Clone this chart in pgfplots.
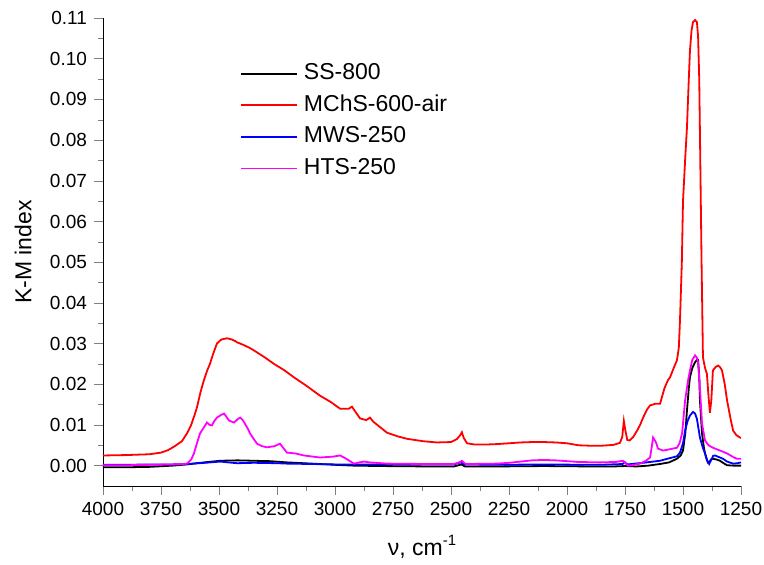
\documentclass[border=0pt]{standalone}
\usepackage{fontspec}
\setmainfont{Liberation Sans}
\usepackage{pgfplots}
\pgfplotsset{compat=1.18}
\definecolor{magpure}{RGB}{255,0,255}
\definecolor{redpure}{RGB}{255,0,0}
\definecolor{bluepure}{RGB}{0,0,255}

\pgfplotstableread{
x y
4000 -0.0004
3900 -0.0004
3800 -0.0003
3700 0.0000
3638 0.0003
3580 0.0007
3495 0.0012
3420 0.0013
3349 0.0012
3280 0.0011
3207 0.0008
3100 0.0005
3000 0.0002
2918 0.0000
2800 -0.0001
2600 -0.0002
2487 -0.0002
2455 0.0003
2440 -0.0002
2300 -0.0002
2100 -0.0001
1900 -0.0002
1800 -0.0002
1750 -0.0001
1700 -0.0002
1650 0.0000
1600 0.0004
1560 0.0008
1526 0.0017
1510 0.0025
1500 0.0037
1490 0.0080
1483 0.0135
1475 0.0190
1470 0.0217
1460 0.0240
1448 0.0254
1440 0.0260
1435 0.0260
1430 0.0220
1427 0.0160
1418 0.0079
1410 0.0045
1405 0.0030
1398 0.0015
1392 0.0007
1385 0.0010
1378 0.0016
1371 0.0017
1355 0.0015
1341 0.0012
1325 0.0006
1310 0.0001
1280 0.0000
1250 0.0000
}\ssdata

\pgfplotstableread{
x y
4000 0.0025
3900 0.0026
3800 0.0028
3750 0.0032
3720 0.0038
3690 0.0048
3660 0.0060
3638 0.0079
3620 0.0100
3605 0.0125
3595 0.0143
3580 0.0180
3565 0.0210
3550 0.0235
3539 0.0250
3525 0.0275
3509 0.0300
3490 0.0310
3465 0.0313
3445 0.0310
3430 0.0306
3422 0.0303
3400 0.0298
3370 0.0290
3349 0.0283
3300 0.0265
3263 0.0250
3220 0.0235
3177 0.0217
3120 0.0195
3065 0.0172
3020 0.0157
2978 0.0140
2940 0.0140
2927 0.0145
2915 0.0135
2892 0.0116
2865 0.0112
2849 0.0118
2835 0.0108
2800 0.0092
2776 0.0081
2730 0.0072
2690 0.0066
2620 0.0060
2560 0.0057
2500 0.0058
2475 0.0065
2460 0.0075
2453 0.0082
2445 0.0068
2431 0.0055
2400 0.0052
2345 0.0052
2300 0.0053
2250 0.0055
2200 0.0057
2150 0.0058
2100 0.0058
2050 0.0057
2000 0.0055
1950 0.0050
1900 0.0049
1850 0.0049
1800 0.0051
1772 0.0056
1762 0.0070
1755 0.0110
1748 0.0085
1740 0.0063
1730 0.0062
1715 0.0070
1698 0.0086
1685 0.0100
1672 0.0118
1655 0.0138
1642 0.0148
1620 0.0152
1599 0.0152
1590 0.0170
1580 0.0190
1565 0.0210
1556 0.0217
1540 0.0240
1526 0.0259
1518 0.0290
1513 0.0357
1505 0.0500
1500 0.0650
1490 0.0760
1483 0.0830
1475 0.0950
1470 0.1020
1463 0.1070
1457 0.1090
1448 0.1095
1440 0.1090
1435 0.1055
1430 0.0950
1427 0.0818
1420 0.0500
1414 0.0266
1405 0.0240
1397 0.0226
1390 0.0170
1384 0.0130
1378 0.0160
1371 0.0234
1360 0.0242
1349 0.0246
1340 0.0242
1332 0.0234
1320 0.0200
1310 0.0160
1295 0.0115
1284 0.0086
1270 0.0075
1254 0.0069
1250 0.0068
}\mchsdata

\pgfplotstableread{
x y
4000 0.0002
3900 0.0002
3800 0.0003
3700 0.0003
3638 0.0004
3560 0.0007
3495 0.0010
3460 0.0008
3422 0.0006
3350 0.0007
3250 0.0006
3207 0.0005
3100 0.0004
3000 0.0003
2918 0.0003
2700 0.0003
2487 0.0003
2460 0.0008
2440 0.0003
2300 0.0002
2100 0.0003
1900 0.0002
1858 0.0002
1760 0.0004
1752 0.0009
1740 0.0003
1672 0.0007
1599 0.0012
1560 0.0018
1526 0.0023
1513 0.0032
1500 0.0055
1491 0.0086
1480 0.0110
1470 0.0123
1457 0.0132
1448 0.0128
1440 0.0115
1427 0.0069
1415 0.0045
1405 0.0030
1395 0.0012
1387 0.0004
1380 0.0012
1370 0.0024
1362 0.0025
1345 0.0021
1328 0.0017
1310 0.0010
1284 0.0005
1265 0.0006
1250 0.0008
}\mwsdata

\pgfplotstableread{
x y
4000 0.0001
3900 0.0001
3800 0.0002
3700 0.0003
3660 0.0004
3638 0.0005
3620 0.0015
3608 0.0030
3595 0.0055
3582 0.0079
3565 0.0094
3552 0.0106
3540 0.0100
3530 0.0099
3520 0.0110
3509 0.0118
3490 0.0125
3478 0.0128
3468 0.0120
3457 0.0111
3445 0.0108
3435 0.0106
3420 0.0114
3409 0.0118
3398 0.0112
3388 0.0103
3375 0.0090
3366 0.0079
3350 0.0065
3336 0.0054
3315 0.0048
3293 0.0045
3260 0.0048
3237 0.0054
3225 0.0045
3207 0.0032
3170 0.0030
3134 0.0025
3065 0.0020
3010 0.0022
2978 0.0025
2955 0.0018
2918 0.0005
2895 0.0008
2875 0.0010
2850 0.0008
2776 0.0005
2600 0.0004
2487 0.0004
2460 0.0009
2453 0.0012
2440 0.0005
2431 0.0004
2300 0.0005
2250 0.0007
2200 0.0010
2150 0.0013
2100 0.0014
2050 0.0013
2000 0.0011
1950 0.0009
1858 0.0008
1790 0.0009
1759 0.0012
1745 0.0004
1737 0.0000
1710 0.0002
1685 0.0005
1660 0.0012
1642 0.0020
1635 0.0045
1629 0.0069
1621 0.0062
1615 0.0055
1608 0.0042
1586 0.0037
1560 0.0040
1526 0.0044
1515 0.0055
1504 0.0079
1491 0.0160
1478 0.0210
1470 0.0234
1460 0.0260
1448 0.0271
1440 0.0265
1435 0.0254
1428 0.0200
1418 0.0103
1405 0.0062
1390 0.0050
1371 0.0044
1340 0.0037
1310 0.0030
1280 0.0020
1267 0.0017
1250 0.0017
}\htsdata

\begin{document}
\begin{tikzpicture}
\begin{axis}[
  scale only axis,
  width=319pt, height=234pt,
  x dir=reverse,
  xmin=1250, xmax=4000,
  ymin=-0.005, ymax=0.11,
  axis x line*=bottom,
  axis y line*=left,
  tick align=outside,
  major tick length=4.5pt,
  minor tick length=2.5pt,
  xtick={1250,1500,...,4000},
  ytick={0,0.01,...,0.11},
  minor x tick num=1,
  minor y tick num=1,
  scaled y ticks=false,
  scaled x ticks=false,
  /pgf/number format/assume math mode=true,
  x tick label style={/pgf/number format/1000 sep={}, font=\fontsize{9.5}{11}\selectfont},
  y tick label style={/pgf/number format/fixed, /pgf/number format/fixed zerofill, /pgf/number format/precision=2, font=\fontsize{9.5}{11}\selectfont},
  every axis x label/.style={at={(axis description cs:0.5,-0.13)}, anchor=center, font=\fontsize{11.5}{13}\selectfont},
  every axis y label/.style={at={(axis description cs:-0.125,0.5)}, anchor=center, rotate=90, font=\fontsize{11.5}{13}\selectfont},
  xlabel={ν, cm\raisebox{0.9ex}{\fontsize{7.5}{8}\selectfont -1}},
  ylabel={K-M index},
  legend image code/.code={\draw[#1] (0pt,0pt) -- (28pt,0pt);},
  legend style={draw=none, fill=none, at={(axis description cs:0.205,0.918)}, anchor=north west,
    font=\fontsize{11.5}{13}\selectfont, row sep=2.8pt, column sep=2pt,
    nodes={text height=8.5pt, text depth=2.5pt, inner sep=1pt}},
  legend cell align=left,
  every axis plot/.append style={line width=0.9pt},
]
\addplot[black] table[x=x,y=y] {\ssdata};
\addlegendentry{SS-800}
\addplot[redpure] table[x=x,y=y] {\mchsdata};
\addlegendentry{MChS-600-air}
\addplot[bluepure] table[x=x,y=y] {\mwsdata};
\addlegendentry{MWS-250}
\addplot[magpure] table[x=x,y=y] {\htsdata};
\addlegendentry{HTS-250}
\end{axis}
\pgfresetboundingbox
\path ([shift={(-51.5pt,-39.5pt)}]current axis.south west) rectangle ([shift={(11.5pt,9pt)}]current axis.north east);
\end{tikzpicture}
\end{document}
